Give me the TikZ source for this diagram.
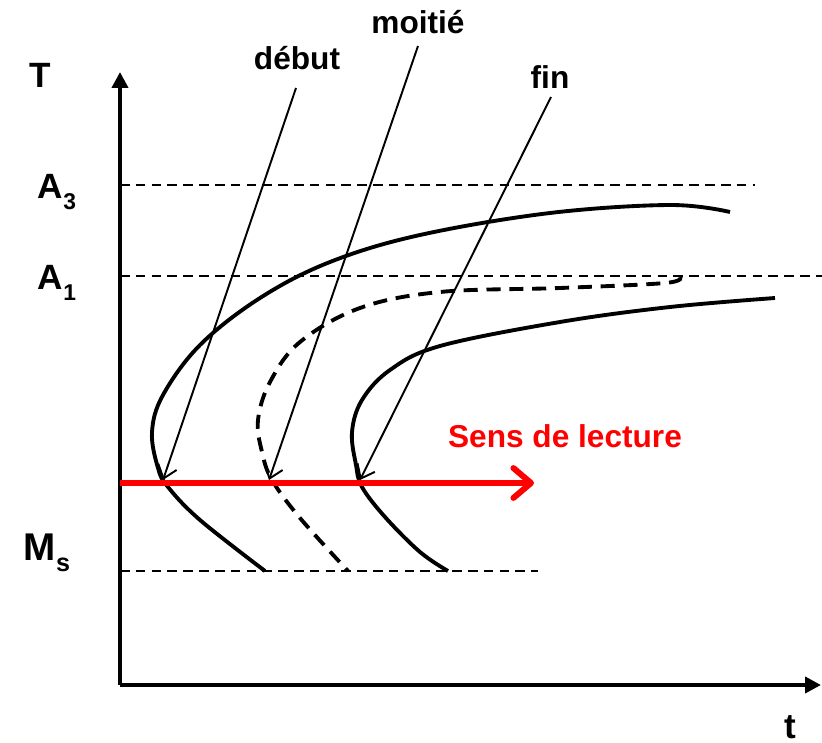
\documentclass[tikz,border=0pt]{standalone}
\usepackage{fontspec}
\setmainfont{Liberation Sans}
\usepackage{xcolor}
\usepackage{graphicx}
\usepackage{tikz}
\usetikzlibrary{arrows.meta, positioning, calc}
\definecolor{myred}{RGB}{255,0,0}
\definecolor{mydark}{RGB}{0,0,0}
\newcommand{\lowsub}[1]{\raisebox{-0.3em}{\scalebox{0.65}{#1}}}
\tikzset{
  axis/.style={line width=2.2pt, color=mydark, -{Triangle[length=9pt, width=9pt]}},
  refline/.style={line width=1.1pt, color=mydark, dash pattern=on 5.5pt off 3.5pt},
  curve/.style={line width=2.2pt, color=mydark, smooth, tension=0.6},
  dashcurve/.style={curve, dash pattern=on 8pt off 5pt},
  pointer/.style={line width=1.1pt, color=mydark, -{Straight Barb[length=7pt, width=11pt, line width=1.1pt]}},
  readarrow/.style={line width=3.4pt, color=myred, -{Straight Barb[length=10pt, width=17pt, round]}},
  axlabel/.style={font=\bfseries\fontsize{20}{22}\selectfont},
  curvelabel/.style={font=\bfseries\fontsize{18}{20}\selectfont}
}
\begin{document}
\begin{tikzpicture}[x=0.02cm, y=-0.02cm]
  \useasboundingbox (0,0) rectangle (822,743);

  % Axes
  \coordinate (O) at (120,685);
  \coordinate (Ttop) at (120,72);
  \coordinate (tend) at (821,685);
  \draw[axis] (O) -- (Ttop);
  \draw[axis] (O) -- (tend);
  \node[axlabel] (T) at (40,75) {T};
  \node[axlabel] (tlab) at (790,727) {t};

  % Temperature levels
  \node[axlabel] (A3) at (57,192) {A\lowsub{3}};
  \node[axlabel] (A1) at (57,283) {A\lowsub{1}};
  \node[axlabel, font=\bfseries\fontsize{22}{24}\selectfont] (Ms) at (47,553) {M\lowsub{s}};
  \draw[refline] (120,185) -- (755,185);
  \draw[refline] (120,276) -- (822,276);
  \draw[refline] (120,571) -- (538,571);

  % Transformation curves
  \draw[curve] plot coordinates {(730,212) (670,205) (550,213) (420,235) (330,262)
    (260,298) (200,345) (163,395) (152,432) (158,468) (168,487) (200,520) (265,571)};
  \draw[dashcurve] plot coordinates {(680,277) (665,283) (560,288) (440,292) (360,308)
    (300,342) (270,382) (258,420) (262,452) (272,480) (300,518) (348,571)};
  \draw[curve] plot coordinates {(775,298) (670,307) (560,322) (440,346) (390,370)
    (362,400) (352,432) (356,465) (362,487) (385,517) (420,552) (448,571)};

  % Reading direction
  \coordinate (rstart) at (120,483);
  \coordinate (rend) at (534,483);
  \draw[readarrow] (rstart) -- (rend);
  \node[curvelabel, text=myred] (sens) at (565,436) {Sens de lecture};

  % Pointers
  \node[curvelabel] (debut) at (297,58) {début};
  \node[curvelabel] (moitie) at (418,22) {moitié};
  \node[curvelabel] (fin) at (550,77) {fin};
  \coordinate (debtop) at (296,88);
  \coordinate (moitop) at (418,46);
  \coordinate (fintop) at (551,97);
  \coordinate (debpt) at (163,480);
  \coordinate (moipt) at (269,480);
  \coordinate (finpt) at (360,480);
  \draw[pointer] (debtop) -- (debpt);
  \draw[pointer] (moitop) -- (moipt);
  \draw[pointer] (fintop) -- (finpt);
\end{tikzpicture}
\end{document}
